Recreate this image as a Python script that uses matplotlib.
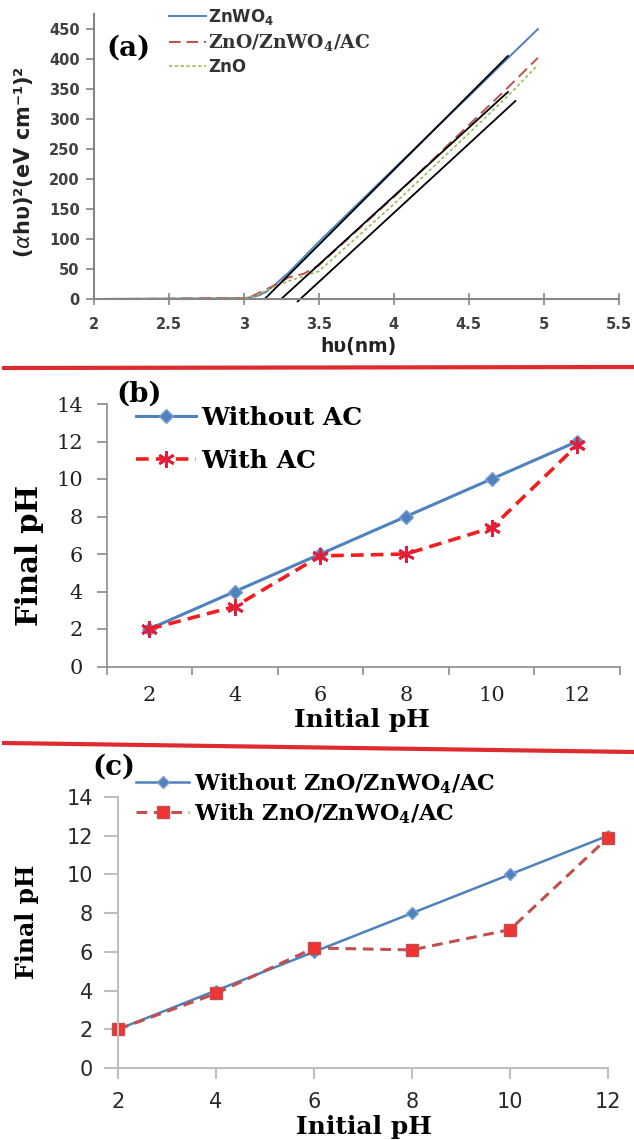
import matplotlib
matplotlib.use("Agg")
import matplotlib.pyplot as plt
from matplotlib.lines import Line2D
import numpy as np

# ---------------- data ----------------
# (a) Tauc plot
znwo4_x = [2.0, 2.5, 2.8, 3.0, 3.05, 3.1, 3.15, 3.2, 3.3, 3.5, 4.0, 4.5, 4.75, 4.96]
znwo4_y = [0, 0.5, 1, 1.5, 3, 6, 12, 22, 44, 95, 217, 338, 399, 450]
comp_x = [2.0, 2.5, 2.8, 3.0, 3.05, 3.1, 3.2, 3.3, 3.4, 3.5, 4.0, 4.5, 4.75, 4.96]
comp_y = [0, 0.5, 1.5, 1.5, 4, 10, 22, 36, 42, 56, 170, 290, 350, 402]
zno_x = [2.0, 2.5, 2.8, 3.0, 3.05, 3.1, 3.2, 3.3, 3.5, 4.0, 4.5, 4.75, 4.96]
zno_y = [0, 0.3, 1, 1.5, 3, 8, 20, 30, 46, 158, 276, 336, 390]
tangent1_x = [3.14, 4.76]
tangent1_y = [0, 405]
tangent2_x = [3.25, 4.76]
tangent2_y = [0, 345]
tangent3_x = [3.36, 4.81]
tangent3_y = [-4, 330]
a_xticks = [2, 2.5, 3, 3.5, 4, 4.5, 5, 5.5]
a_xticklabels = ["2", "2.5", "3", "3.5", "4", "4.5", "5", "5.5"]
a_yticks = [0, 50, 100, 150, 200, 250, 300, 350, 400, 450]

# (b) final pH with / without AC
ph_initial = [2, 4, 6, 8, 10, 12]
b_without_ac = [2, 4, 6, 8, 10, 12]
b_with_ac = [2.0, 3.2, 5.9, 6.0, 7.4, 11.8]

# (c) final pH with / without ZnO/ZnWO4/AC
c_without = [2, 4, 6, 8, 10, 12]
c_with = [2.0, 3.85, 6.2, 6.1, 7.15, 11.9]
ph_yticks = [0, 2, 4, 6, 8, 10, 12, 14]

# ---------------- figure ----------------
W, H = 634, 1140
fig = plt.figure(figsize=(W / 100, H / 100), dpi=100)
fig.patch.set_facecolor("white")


def box(l, t, r, b):
    return [l / W, 1 - b / H, (r - l) / W, (b - t) / H]


def fx(x):
    return x / W


def fy(y):
    return 1 - y / H


SERIF = "DejaVu Serif"
SANS = "DejaVu Sans"

# ---------------- panel (a) ----------------
axa = fig.add_axes(box(93.5, 14, 619, 299))
axa.plot(znwo4_x, znwo4_y, color="#4F81BD", lw=1.4, label="ZnWO$\\mathregular{_4}$")
axa.plot(comp_x, comp_y, color="#C0504D", lw=1.4, dashes=(6, 3),
         label="ZnO/ZnWO$\\mathregular{_4}$/AC")
axa.plot(zno_x, zno_y, color="#9BBB59", lw=1.2, dashes=(2, 1.5), label="ZnO")
for tx, ty in [(tangent1_x, tangent1_y), (tangent2_x, tangent2_y), (tangent3_x, tangent3_y)]:
    axa.plot(tx, ty, color="black", lw=1.3, clip_on=False)
axa.set_xlim(2, 5.5)
axa.set_ylim(0, 475)
axa.set_xticks(a_xticks)
axa.set_xticklabels(a_xticklabels)
axa.set_yticks(a_yticks)
for s in ["top", "right"]:
    axa.spines[s].set_visible(False)
for s in ["left", "bottom"]:
    axa.spines[s].set_color("#868686")
    axa.spines[s].set_linewidth(1.5)
axa.tick_params(axis="both", colors="#868686", labelcolor="#404040", labelsize=10.5,
                width=1.2, length=6, direction="out", pad=4)
axa.tick_params(axis="x", direction="inout", length=8, pad=9)
for lab in axa.get_xticklabels() + axa.get_yticklabels():
    lab.set_fontfamily(SANS)
    lab.set_fontweight("bold")

leg = axa.legend(loc="upper left", bbox_to_anchor=(fx(169), fy(7)), bbox_transform=fig.transFigure,
                 frameon=False, handlelength=2.2, handletextpad=0.15, labelspacing=0.3,
                 borderpad=0, borderaxespad=0, fontsize=12)
texts = leg.get_texts()
texts[0].set_fontfamily(SANS); texts[0].set_fontweight("bold"); texts[0].set_color("#333333")
texts[1].set_fontfamily(SERIF); texts[1].set_fontweight("bold"); texts[1].set_fontsize(13.5)
texts[1].set_color("#333333")
texts[2].set_fontfamily(SANS); texts[2].set_fontweight("bold"); texts[2].set_color("#333333")

fig.text(fx(128), fy(48), "(a)", fontsize=20, fontweight="bold", family=SERIF,
         ha="center", va="center")
fig.text(fx(358), fy(347), "hυ(nm)", fontsize=13.5, fontweight="bold", family=SANS,
         ha="center", va="center", color="#222222")
fig.text(fx(24), fy(162), "($\\alpha$hυ)²(eV cm⁻¹)²", fontsize=15, fontweight="bold", family=SANS,
         ha="center", va="center", rotation=90, color="#222222")

# ---------------- separators ----------------
fig.add_artist(Line2D([fx(4), fx(634)], [fy(368), fy(367)], color="#DD2B2F", lw=3,
                      transform=fig.transFigure))
fig.add_artist(Line2D([fx(4), fx(634)], [fy(743), fy(752)], color="#DD2B2F", lw=3,
                      transform=fig.transFigure))

# ---------------- panel (b) ----------------
axb = fig.add_axes(box(106.5, 404, 620, 666.5))
axb.plot(ph_initial, b_without_ac, color="#4F81BD", lw=2.2, marker="D", markersize=7,
         markerfacecolor="#4F81BD", markeredgecolor="#7EA3D2", label="Without AC")
axb.plot(ph_initial, b_with_ac, color="#F01E1E", lw=2.6, dashes=(3.5, 2), marker=(6, 2, 0),
         markersize=12, markeredgewidth=2, markeredgecolor="#E0203A", label="With AC")
axb.set_xlim(1, 13)
axb.set_ylim(0, 14)
axb.set_xticks(ph_initial)
axb.set_xticks([1, 3, 5, 7, 9, 11, 13], minor=True)
axb.set_yticks(ph_yticks)
for s in ["top", "right"]:
    axb.spines[s].set_visible(False)
for s in ["left", "bottom"]:
    axb.spines[s].set_color("#8C8C8C")
    axb.spines[s].set_linewidth(1.2)
axb.tick_params(axis="x", which="major", length=0, pad=14, labelsize=15, labelcolor="#222222")
axb.tick_params(axis="x", which="minor", length=6, width=1.2, color="#8C8C8C", direction="out")
axb.tick_params(axis="y", length=7, width=1.2, color="#8C8C8C", direction="out", pad=10,
                labelsize=15, labelcolor="#222222")
for lab in axb.get_xticklabels() + axb.get_yticklabels():
    lab.set_fontfamily(SERIF)

legb = axb.legend(loc="upper left", bbox_to_anchor=(fx(136), fy(406)), bbox_transform=fig.transFigure,
                  frameon=False, handlelength=2.4, handletextpad=0.2, labelspacing=0.75,
                  borderpad=0, borderaxespad=0, prop={"family": SERIF, "weight": "bold", "size": 18})

fig.text(fx(139), fy(394), "(b)", fontsize=20, fontweight="bold", family=SERIF,
         ha="center", va="center")
fig.text(fx(362), fy(720), "Initial pH", fontsize=18, fontweight="bold", family=SERIF,
         ha="center", va="center")
fig.text(fx(30), fy(556), "Final pH", fontsize=21, fontweight="bold", family=SERIF,
         ha="center", va="center", rotation=90)

# ---------------- panel (c) ----------------
axc = fig.add_axes(box(118, 797, 608, 1068))
axc.plot(ph_initial, c_without, color="#4F81BD", lw=1.8, marker="D", markersize=6,
         markerfacecolor="#4F81BD", markeredgecolor="#7EA3D2",
         label="Without ZnO/ZnWO$\\mathregular{_4}$/AC")
axc.plot(ph_initial, c_with, color="#C0504D", lw=2.2, dashes=(3.5, 2.2), marker="s",
         markersize=9, markerfacecolor="#F03434", markeredgecolor="#C0504D", markeredgewidth=1,
         label="With ZnO/ZnWO$\\mathregular{_4}$/AC")
axc.set_xlim(2, 12)
axc.set_ylim(0, 14)
axc.set_xticks(ph_initial)
axc.set_yticks(ph_yticks)
for s in ["top", "right"]:
    axc.spines[s].set_visible(False)
for s in ["left", "bottom"]:
    axc.spines[s].set_color("#BFBFBF")
    axc.spines[s].set_linewidth(1.5)
    axc.spines[s].set_clip_on(False)
axc.tick_params(axis="x", length=8, width=1.5, color="#BFBFBF", direction="out", pad=9,
                labelsize=15, labelcolor="#2A2A2A")
axc.tick_params(axis="y", length=10, width=1.5, color="#BFBFBF", direction="out", pad=8,
                labelsize=15, labelcolor="#2A2A2A")
for lab in axc.get_xticklabels() + axc.get_yticklabels():
    lab.set_fontfamily(SANS)
for line in axc.get_lines():
    line.set_clip_on(False)

legc = axc.legend(loc="upper left", bbox_to_anchor=(fx(136), fy(771)), bbox_transform=fig.transFigure,
                  frameon=False, handlelength=2.4, handletextpad=0.2, labelspacing=0.25,
                  borderpad=0, borderaxespad=0, prop={"family": SERIF, "weight": "bold", "size": 16})

fig.text(fx(114), fy(767), "(c)", fontsize=20, fontweight="bold", family=SERIF,
         ha="center", va="center")
fig.text(fx(364), fy(1127), "Initial pH", fontsize=18, fontweight="bold", family=SERIF,
         ha="center", va="center")
fig.text(fx(27), fy(922), "Final pH", fontsize=17, fontweight="bold", family=SERIF,
         ha="center", va="center", rotation=90)

fig.savefig("out.png", dpi=100, facecolor="white")
